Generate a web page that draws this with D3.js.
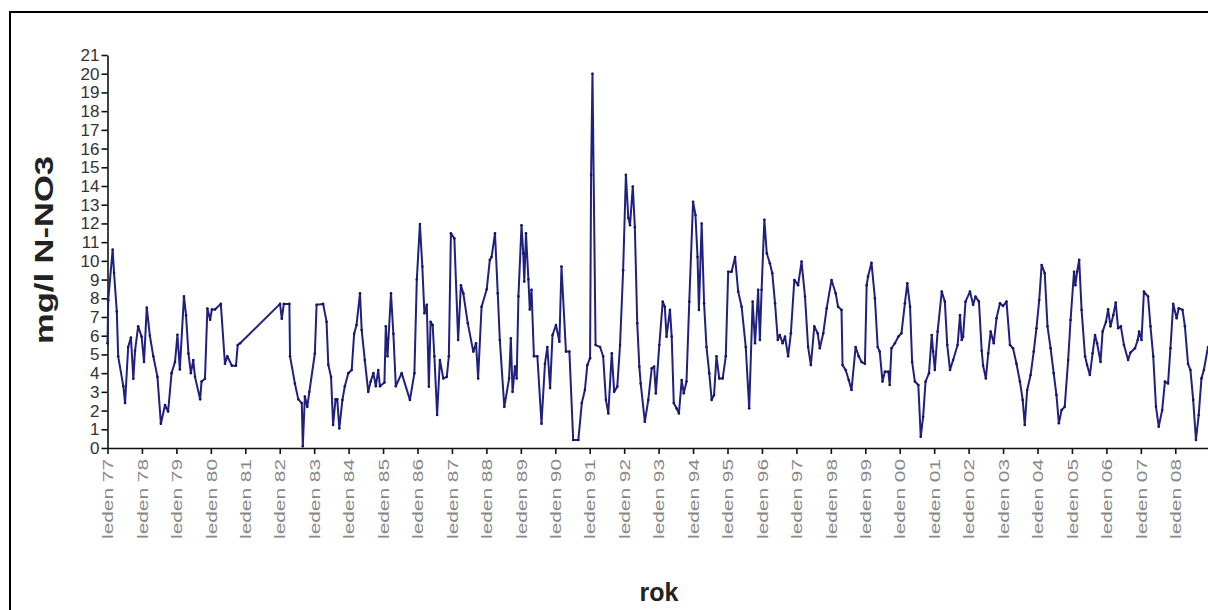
<!DOCTYPE html>
<html><head><meta charset="utf-8">
<script src="https://cdn.jsdelivr.net/npm/d3@7"></script>
<style>body{margin:0;background:#fff} svg{display:block} text{font-family:"Liberation Sans",Arial,sans-serif}</style>
</head><body>
<svg id="c" width="1208" height="610"></svg>
<script>
// decimal year of each sample
const years = [
1977.00,1977.02,1977.15,1977.19,1977.27,1977.31,1977.46,1977.51,1977.60,1977.68,1977.75,1977.80,1977.89,1977.99,
1978.06,1978.14,1978.23,1978.33,1978.45,1978.55,1978.67,1978.76,1978.86,1978.96,
1979.03,1979.10,1979.22,1979.28,1979.35,1979.42,1979.49,1979.54,1979.69,1979.73,1979.83,1979.90,1979.98,
1980.03,1980.12,1980.29,1980.41,1980.48,1980.61,1980.73,1980.78,1980.85,
1982.01,1982.06,1982.12,1982.28,1982.30,1982.44,1982.54,1982.64,1982.67,1982.73,1982.80,1982.86,
1983.02,1983.07,1983.26,1983.36,1983.41,1983.49,1983.55,1983.62,1983.67,1983.73,1983.82,1983.89,1983.99,
1984.09,1984.16,1984.23,1984.33,1984.38,1984.47,1984.57,1984.64,1984.72,1984.79,1984.86,1984.91,
1985.04,1985.08,1985.13,1985.23,1985.30,1985.37,1985.54,1985.78,1985.91,1985.98,
1986.07,1986.14,1986.20,1986.27,1986.33,1986.38,1986.44,1986.49,1986.57,1986.65,1986.75,1986.85,1986.91,1986.97,
1987.07,1987.18,1987.26,1987.33,1987.46,1987.62,1987.70,1987.76,1987.86,
1988.01,1988.10,1988.15,1988.25,1988.33,1988.39,1988.52,1988.66,1988.71,1988.76,1988.83,1988.88,1988.93,
1989.02,1989.07,1989.10,1989.15,1989.22,1989.26,1989.31,1989.38,1989.48,1989.60,1989.70,1989.77,1989.85,1989.92,
1990.02,1990.12,1990.18,1990.31,1990.41,1990.52,1990.67,1990.77,1990.86,1990.93,
1991.01,1991.04,1991.08,1991.17,1991.30,1991.39,1991.47,1991.54,1991.64,1991.71,1991.80,1991.88,1991.97,
1992.05,1992.12,1992.17,1992.25,1992.31,1992.38,1992.44,1992.48,1992.60,1992.70,1992.80,1992.87,1992.92,
1993.02,1993.12,1993.18,1993.23,1993.33,1993.38,1993.44,1993.52,1993.59,1993.67,1993.73,1993.81,1993.89,
1994.00,1994.07,1994.13,1994.17,1994.25,1994.32,1994.39,1994.47,1994.54,1994.61,1994.68,1994.76,1994.86,1994.95,
1995.02,1995.12,1995.22,1995.31,1995.41,1995.53,1995.63,1995.73,1995.80,1995.89,1995.94,1995.99,
1996.07,1996.14,1996.23,1996.30,1996.38,1996.46,1996.52,1996.60,1996.67,1996.76,1996.84,1996.94,
1997.05,1997.15,1997.25,1997.34,1997.42,1997.52,1997.62,1997.68,1997.78,1997.88,
1998.02,1998.14,1998.21,1998.31,1998.34,1998.43,1998.52,1998.60,1998.72,1998.81,1998.89,1998.99,
1999.04,1999.08,1999.18,1999.28,1999.36,1999.42,1999.50,1999.57,1999.67,1999.71,1999.76,1999.86,1999.96,
2000.05,2000.15,2000.22,2000.30,2000.36,2000.44,2000.54,2000.61,2000.68,2000.75,2000.85,2000.93,2000.97,
2001.02,2001.10,2001.22,2001.31,2001.38,2001.46,2001.55,2001.68,2001.75,2001.80,2001.84,2001.91,
2002.04,2002.13,2002.20,2002.30,2002.38,2002.42,2002.50,2002.57,2002.64,2002.73,2002.81,2002.91,
2003.00,2003.10,2003.20,2003.29,2003.39,2003.49,2003.57,2003.63,2003.70,2003.80,2003.89,2003.97,
2004.05,2004.12,2004.21,2004.29,2004.38,2004.47,2004.55,2004.62,2004.70,2004.79,2004.89,2004.96,
2005.06,2005.10,2005.15,2005.21,2005.28,2005.38,2005.44,2005.52,2005.60,2005.67,2005.73,2005.83,2005.89,2005.99,
2006.05,2006.12,2006.20,2006.27,2006.34,2006.42,2006.51,2006.63,2006.70,2006.83,2006.91,2006.95,
2007.02,2007.09,2007.21,2007.28,2007.36,2007.44,2007.52,2007.62,2007.70,2007.79,2007.86,2007.94,
2008.04,2008.10,2008.21,2008.28,2008.37,2008.44,2008.52,2008.60,2008.68,2008.76,2008.83,2008.95
];
// mg/l N-NO3
const values = [
5.6,7.9,10.6,9.35,7.3,4.9,3.3,2.4,5.4,5.9,3.7,5.2,6.5,5.95,
4.6,7.5,6.0,4.9,3.8,1.3,2.3,1.95,4.0,4.6,
6.05,4.2,8.1,7.1,5.05,4.0,4.7,3.8,2.6,3.55,3.7,7.45,6.85,
7.4,7.4,7.7,4.5,4.9,4.4,4.4,5.5,5.6,
7.7,6.9,7.7,7.7,4.9,3.45,2.6,2.4,0.1,2.75,2.2,3.0,
5.05,7.65,7.7,6.75,4.45,3.8,1.23,2.6,2.6,1.05,2.57,3.3,4.0,
4.17,6.1,6.57,8.27,6.3,4.7,3.0,3.55,4.0,3.3,4.17,3.3,
3.5,6.5,4.9,8.27,6.1,3.3,4.0,2.57,4.0,9.0,
11.97,9.7,7.2,7.65,3.28,6.75,6.57,4.9,1.76,4.7,3.72,3.8,4.9,11.47,
11.2,5.77,8.7,8.27,6.66,5.15,5.6,3.72,7.55,
8.48,10.05,10.2,11.47,8.27,5.77,2.2,3.72,5.86,3.0,4.35,3.72,8.1,
11.9,10.4,8.9,11.47,9.0,7.4,8.45,4.9,4.9,1.3,4.5,5.4,3.2,6.04,
6.57,5.68,9.7,5.15,5.15,0.43,0.43,2.4,3.1,4.43,
4.8,14.6,20.0,5.5,5.4,4.9,2.57,1.85,5.06,3.0,3.28,5.5,9.5,
14.6,12.3,11.9,13.97,11.8,6.66,4.35,3.45,1.4,2.57,4.26,4.35,2.92,
5.5,7.82,7.55,5.95,7.38,5.95,2.4,2.12,1.85,3.63,2.92,3.55,7.82,
13.16,12.45,10.2,7.38,12.0,7.73,5.4,4.0,2.57,2.83,4.9,3.72,3.72,4.9,
9.42,9.42,10.2,8.36,7.55,5.4,2.12,7.82,5.6,8.45,5.77,8.45,
12.2,10.4,9.87,9.34,7.73,5.77,6.04,5.6,5.95,4.9,6.13,8.98,
8.7,9.96,8.09,5.4,4.43,6.5,6.13,5.33,6.13,7.47,
8.98,8.27,7.55,7.38,4.43,4.17,3.63,3.1,5.4,4.9,4.6,4.5,
8.7,9.16,9.9,8.0,5.4,5.15,3.55,4.08,4.08,3.37,5.33,5.6,5.95,
6.13,7.73,8.8,7.55,4.6,3.55,3.37,0.6,1.67,3.55,4.0,6.04,5.15,
4.17,6.22,8.36,7.82,5.5,4.17,4.7,5.5,7.1,5.77,5.95,7.82,
8.36,7.65,8.09,7.82,5.2,4.4,3.72,5.06,6.22,5.6,6.93,7.73,
7.59,7.82,5.5,5.33,4.5,3.55,2.57,1.23,3.1,3.9,5.15,6.4,
7.91,9.78,9.34,6.5,5.33,4.0,2.83,1.32,2.03,2.2,4.7,6.84,
9.42,8.7,9.42,10.05,7.38,4.9,4.43,3.9,5.06,6.04,5.6,4.6,6.22,6.75,
7.41,6.5,7.1,7.77,6.4,6.5,5.5,4.7,5.1,5.33,5.77,6.22,
5.77,8.36,8.09,6.5,4.9,2.2,1.14,2.03,3.55,3.45,5.33,7.7,
6.93,7.47,7.38,6.5,4.5,4.17,2.57,0.43,1.76,3.72,4.17,5.4
];
const tickYears = d3.range(1977, 2009);
const tickLabels = tickYears.map(v => "leden " + String(v % 100).padStart(2, "0"));
const yTicks = d3.range(0, 22);

const svg = d3.select("#c");
// outer frame
svg.append("rect").attr("x",10).attr("y",12).attr("width",1220).attr("height",610)
  .attr("fill","none").attr("stroke","#000").attr("stroke-width",2);

const x = d3.scaleLinear().domain([1977, 2008.95]).range([107.5, 1208]);
const y = d3.scaleLinear().domain([0, 21]).range([448, 55]);

const gy = svg.append("g").attr("transform","translate(107.5,0)")
  .call(d3.axisLeft(y).tickValues(yTicks).tickSize(6).tickSizeOuter(0).tickPadding(2));
gy.select(".domain").attr("stroke","#111").attr("stroke-width",1.6);
gy.selectAll(".tick line").attr("stroke","#111").attr("stroke-width",1.6);
gy.selectAll("text").attr("font-size",17).attr("fill","#333").style("font-family","'Liberation Sans',Arial,sans-serif");

const gx = svg.append("g").attr("transform","translate(0,448)")
  .call(d3.axisBottom(x).tickValues(tickYears).tickFormat((d,i)=>tickLabels[i]).tickSize(6).tickSizeOuter(0));
gx.select(".domain").attr("stroke","#111").attr("stroke-width",1.6);
gx.selectAll(".tick line").attr("stroke","#111").attr("stroke-width",1.6);
gx.selectAll("text").attr("transform","rotate(-90)").attr("x",-11).attr("y",0).attr("dy","0.35em")
  .style("text-anchor","end").attr("font-size",15).attr("fill","#888")
  .attr("textLength",80).attr("lengthAdjust","spacingAndGlyphs")
  .style("font-family","'Liberation Sans',Arial,sans-serif");

const data = years.map((t,i)=>({t, v: values[i]}));
svg.append("path").datum(data)
  .attr("fill","none").attr("stroke","#20207f").attr("stroke-width",2).attr("stroke-linejoin","round")
  .attr("d", d3.line().x(d=>x(d.t)).y(d=>y(d.v)));
svg.append("g").selectAll("circle").data(data).join("circle")
  .attr("cx",d=>x(d.t)).attr("cy",d=>y(d.v)).attr("r",1.3).attr("fill","#151560");

svg.append("text").attr("transform","translate(53,250) rotate(-90)")
  .attr("text-anchor","middle").attr("font-size",25).attr("font-weight","bold").attr("fill","#222")
  .attr("textLength",188).attr("lengthAdjust","spacingAndGlyphs")
  .text("mg/l N-NO3");
svg.append("text").attr("x",659).attr("y",601)
  .attr("text-anchor","middle").attr("font-size",25).attr("font-weight","bold").attr("fill","#222")
  .text("rok");
</script>
</body></html>
